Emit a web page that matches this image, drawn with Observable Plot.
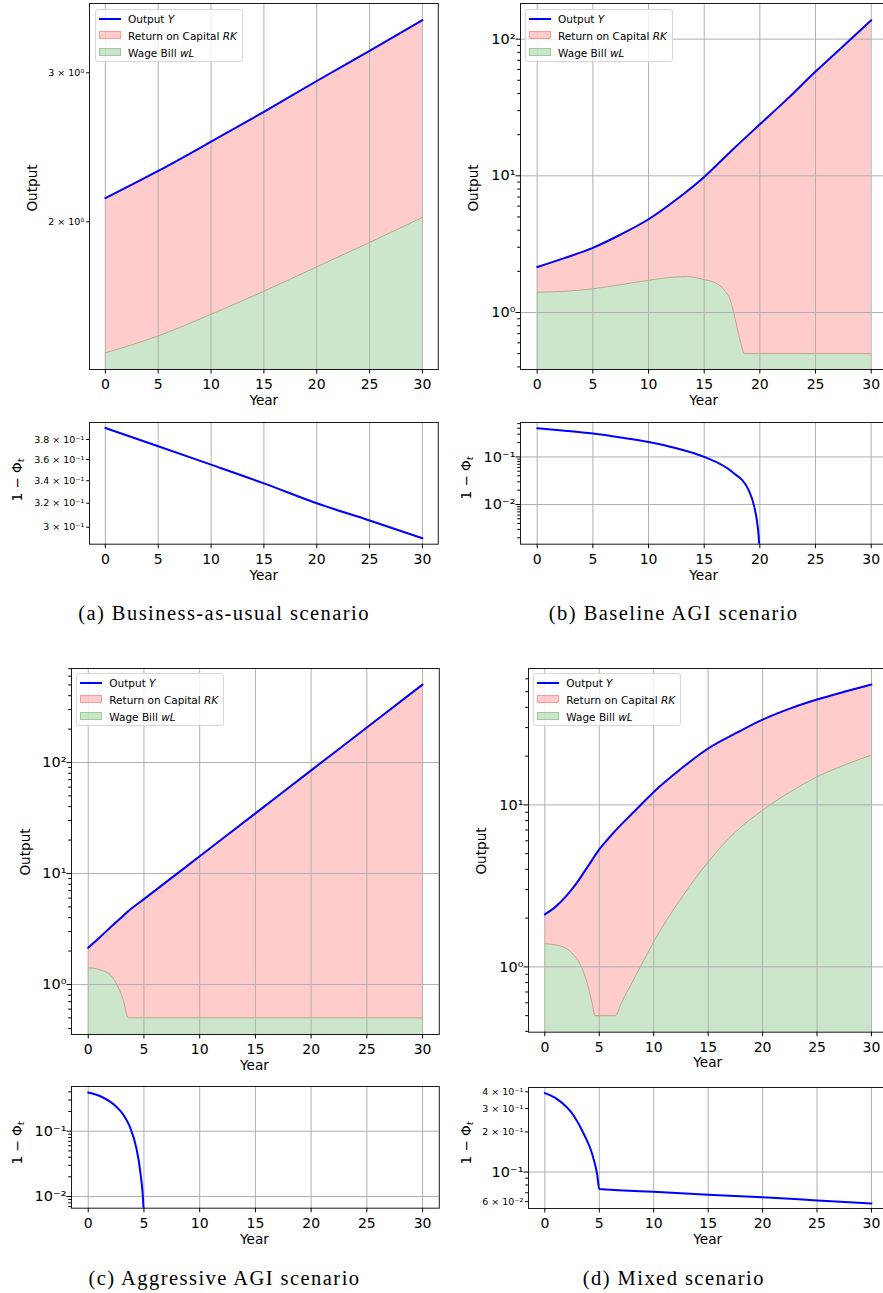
<!DOCTYPE html>
<html><head><meta charset="utf-8">
<script src="https://cdn.jsdelivr.net/npm/d3@7"></script>
<script src="https://cdn.jsdelivr.net/npm/@observablehq/plot@0.6"></script>
<style>
body{margin:0;background:#fff;}
#root{position:relative;width:883px;height:1293px;overflow:hidden;font-family:"DejaVu Sans",sans-serif;color:#000;}
.lbl{position:absolute;font-size:13.6px;line-height:1;white-space:nowrap;transform:translate(-50%,-50%);}
.rot{transform:translate(-50%,-50%) rotate(-90deg);}
.cap{position:absolute;font-family:"Liberation Serif",serif;font-size:20.5px;letter-spacing:1.45px;line-height:1;white-space:nowrap;transform:translate(-50%,-50%);}
.legend{position:absolute;width:146px;height:51px;border:1px solid #d6d6d6;border-radius:3px;background:rgba(255,255,255,0.8);font-size:10.5px;}
.row{position:absolute;left:0;height:17px;width:100%;}
.sw{position:absolute;left:3px;width:22px;}
.txt{position:absolute;left:32px;top:50%;transform:translateY(-50%);line-height:1;white-space:nowrap;}
</style></head><body><div id="root"></div>
<script>
// ---------- data ----------
const xTicks = [0, 5, 10, 15, 20, 25, 30];

// (a) Business-as-usual
const yearsA = [0, 5, 10, 15, 20, 25, 30];
const outputA = [2.133, 2.297, 2.487, 2.698, 2.934, 3.185, 3.463];
const wageA = [1.40, 1.466, 1.555, 1.656, 1.769, 1.891, 2.024];
const phiYearsA = [0, 5, 10, 15, 20, 25, 30];
const phiA = [0.392, 0.3732, 0.3551, 0.3376, 0.32, 0.3055, 0.2912];

// (b) Baseline AGI
const outYearsB = [0, 2.5, 5, 7.5, 10, 12.5, 15, 17.5, 20, 22.5, 25, 27.5, 30];
const outputB = [2.15, 2.51, 2.97, 3.72, 4.81, 6.71, 9.82, 15.4, 23.8, 36.7, 57.9, 89.2, 137.5];
const wageYearsB = [0, 2.5, 5, 7.5, 10, 12.5, 13.5, 15, 16, 16.8, 17.4, 17.8, 18.3, 18.6, 30];
const wageB = [1.408, 1.43, 1.49, 1.60, 1.72, 1.82, 1.83, 1.74, 1.65, 1.46, 1.20, 0.88, 0.593, 0.5, 0.5];
const phiYearsB = [0, 2.5, 5, 7.5, 10, 12.5, 15, 17.5, 19, 19.5, 19.8, 19.92, 20];
const phiB = [0.40, 0.355, 0.309, 0.256, 0.206, 0.152, 0.10, 0.0485, 0.020, 0.0089, 0.0035, 0.0017, 0.0005];

// (c) Aggressive AGI
const outYearsC = [0, 1, 2, 3, 3.5, 5, 10, 15, 20, 25, 30];
const outputC = [2.14, 2.64, 3.27, 4.04, 4.49, 5.87, 14.3, 34.8, 84.9, 206.7, 504];
const wageYearsC = [0, 0.5, 1.14, 2.03, 2.6, 3.1, 3.6, 30];
const wageC = [1.41, 1.40, 1.346, 1.21, 0.986, 0.748, 0.5, 0.5];
const phiYearsC = [0, 1.14, 2.5, 3.2, 3.75, 4.3, 4.7, 4.96, 4.99];
const phiC = [0.391, 0.34, 0.239, 0.174, 0.115, 0.057, 0.022, 0.0066, 0.002];

// (d) Mixed
const outYearsD = [0, 1, 2, 3, 4, 5, 6, 7, 8, 9, 10, 12.5, 15, 17.5, 20, 22.5, 25, 27.5, 30];
const outputD = [2.11, 2.355, 2.754, 3.35, 4.217, 5.309, 6.38, 7.55, 8.81, 10.3, 12.02, 16.7, 22.3, 27.6, 33.6, 39.3, 44.7, 49.9, 55.3];
const wageYearsD = [0, 1.13, 2.36, 3.3, 3.9, 4.35, 4.6, 6.5, 7, 8, 9, 10, 12.5, 15, 17.5, 20, 22.5, 25, 27.5, 30];
const wageD = [1.39, 1.36, 1.24, 1.02, 0.79, 0.594, 0.5, 0.5, 0.594, 0.797, 1.07, 1.43, 2.64, 4.45, 6.8, 9.27, 12.0, 14.9, 17.6, 20.3];
const phiYearsD = [0, 1.13, 2.66, 3.58, 4.35, 4.8, 5, 10, 15, 20, 25, 30];
const phiD = [0.391, 0.353, 0.2646, 0.193, 0.1365, 0.0966, 0.0745, 0.0712, 0.0676, 0.0646, 0.0613, 0.0582];

// tick values and labels
const minorA = [2, 3];
const minorLabelsA = ["2 × 10⁰", "3 × 10⁰"];
const minorPhiA = [0.30, 0.32, 0.34, 0.36, 0.38];
const minorPhiLabelsA = ["3 × 10⁻¹", "3.2 × 10⁻¹", "3.4 × 10⁻¹", "3.6 × 10⁻¹", "3.8 × 10⁻¹"];
const majorOut3 = [1, 10, 100];
const majorOut3Labels = ["10⁰", "10¹", "10²"];
const majorOut2 = [1, 10];
const majorOut2Labels = ["10⁰", "10¹"];
const majorPhi2 = [0.01, 0.1];
const majorPhi2Labels = ["10⁻²", "10⁻¹"];
const majorPhi1 = [0.1];
const majorPhi1Labels = ["10⁻¹"];
const minorPhiD = [0.06, 0.2, 0.3, 0.4];
const minorPhiLabelsD = ["6 × 10⁻²", "2 × 10⁻¹", "3 × 10⁻¹", "4 × 10⁻¹"];

const legendNames = ["Output", "Return on Capital", "Wage Bill"];
const legendSymbols = ["Y", "RK", "wL"];
const captions = ["(a) Business-as-usual scenario", "(b) Baseline AGI scenario", "(c) Aggressive AGI scenario", "(d) Mixed scenario"];

// ---------- helpers ----------
const zip = (xs, ys) => xs.map((x, i) => ({year: x, value: ys[i]}));
function logMinor(lo, hi, exclude) {
  const out = [];
  for (let e = -4; e <= 3; e++) for (let m = 2; m <= 9; m++) {
    const v = +(m * Math.pow(10, e)).toPrecision(6);
    if (v >= lo && v <= hi && !exclude.some(x => Math.abs(x - v) < 1e-9)) out.push(v);
  }
  return out;
}
const root = document.getElementById("root");
const RED = "#ffcccc", GREEN = "#cce6cc";

function panel(o) {
  const [l, t, r, b] = o.frame;
  const ML = 80, MR = 12, MT = 12, MB = 36;
  const majorTicks = o.majorTicks || [], majorLabels = o.majorLabels || [];
  const minorLabeled = o.minorLabeled || [], minorLabels = o.minorLabels || [];
  const minorTicks = o.minorTicks || [];
  const fmtMajor = new Map(majorTicks.map((d, i) => [d, majorLabels[i]]));
  const fmtMinor = new Map(minorLabeled.map((d, i) => [d, minorLabels[i]]));
  const marks = [];
  if (o.output) marks.push(Plot.areaY(o.output, {x: "year", y1: o.yDomain[0], y2: "value", fill: RED, curve: "monotone-x"}));
  if (o.wage) {
    marks.push(Plot.areaY(o.wage, {x: "year", y1: o.yDomain[0], y2: "value", fill: GREEN, curve: "monotone-x"}));
    marks.push(Plot.line(o.wage, {x: "year", y: "value", stroke: "#c2a487", strokeWidth: 1, curve: "monotone-x"}));
  }
  marks.push(Plot.ruleX(xTicks, {stroke: "#b0b0b0", strokeWidth: 1}));
  if (majorTicks.length) marks.push(Plot.ruleY(majorTicks, {stroke: "#b0b0b0", strokeWidth: 1}));
  marks.push(Plot.line(o.line, {x: "year", y: "value", stroke: "#0000ff", strokeWidth: 2, curve: "monotone-x", clip: true}));
  marks.push(Plot.frame({stroke: "#1a1a1a", strokeWidth: 1}));
  marks.push(Plot.axisX(xTicks, {tickSize: 4.5, tickPadding: 5, fontSize: 14, label: null, text: d => String(d)}));
  if (majorTicks.length) marks.push(Plot.axisY(majorTicks, {tickSize: 4.5, tickPadding: 0.5, fontSize: 14.5, label: null, text: d => fmtMajor.get(d)}));
  if (minorLabeled.length) marks.push(Plot.axisY(minorLabeled, {tickSize: 2.8, tickPadding: 2.5, fontSize: 9.5, label: null, text: d => fmtMinor.get(d)}));
  if (minorTicks.length) marks.push(Plot.axisY(minorTicks, {tickSize: 2.8, tickPadding: 0, label: null, text: () => ""}));
  const svg = Plot.plot({
    width: r - l + ML + MR, height: b - t + MT + MB,
    marginLeft: ML, marginRight: MR, marginTop: MT, marginBottom: MB,
    x: {domain: [-1.5, 31.5]},
    y: {type: "log", domain: o.yDomain, label: null},
    style: {fontFamily: "DejaVu Sans", background: "transparent", overflow: "visible"},
    marks
  });
  svg.style.position = "absolute";
  svg.style.left = (l - ML) + "px";
  svg.style.top = (t - MT) + "px";
  svg.style.maxWidth = "none";
  root.appendChild(svg);
}
function label(html, cx, cy, rot, cls) {
  const d = document.createElement("div");
  d.className = (cls || "lbl") + (rot ? " rot" : "");
  d.innerHTML = html;
  d.style.left = cx + "px"; d.style.top = cy + "px";
  root.appendChild(d);
}
function legend(left, top) {
  const d = document.createElement("div");
  d.className = "legend";
  d.style.left = left + "px"; d.style.top = top + "px";
  const sws = [
    '<span class="sw" style="top:7.5px;height:2px;background:#0000ff"></span>',
    '<span class="sw" style="top:4px;height:8px;background:rgba(255,0,0,0.2);box-sizing:border-box;border:1px solid rgba(255,0,0,0.25)"></span>',
    '<span class="sw" style="top:4px;height:8px;background:rgba(0,128,0,0.2);box-sizing:border-box;border:1px solid rgba(0,128,0,0.25)"></span>'
  ];
  d.innerHTML = legendNames.map((n, i) =>
    `<div class="row" style="top:${i * 17}px">${sws[i]}<span class="txt">${n} <i>${legendSymbols[i]}</i></span></div>`).join("");
  root.appendChild(d);
}
const phiLabel = '1 − Φ<sub style="font-size:70%;vertical-align:-0.25em"><i>t</i></sub>';

// ---------- (a) ----------
panel({frame: [89.4, 3.3, 438.2, 369.3], yDomain: [1.338, 3.623],
  output: zip(yearsA, outputA), wage: zip(yearsA, wageA), line: zip(yearsA, outputA),
  minorLabeled: minorA, minorLabels: minorLabelsA});
panel({frame: [89.4, 422.3, 438.2, 544], yDomain: [0.2866, 0.3978],
  line: zip(phiYearsA, phiA), minorLabeled: minorPhiA, minorLabels: minorPhiLabelsA});
legend(95, 9);
label("Output", 33.2, 188.3, true);
label("Year", 263.8, 400.8);
label(phiLabel, 18, 480, true);
label("Year", 263.8, 575.6);
label(captions[0], 224, 613, false, "cap");

// ---------- (b) ----------
panel({frame: [520, 3.3, 887.4, 369.3], yDomain: [0.3828, 182.3],
  output: zip(outYearsB, outputB), wage: zip(wageYearsB, wageB), line: zip(outYearsB, outputB),
  majorTicks: majorOut3, majorLabels: majorOut3Labels, minorTicks: logMinor(0.3828, 182.3, [])});
panel({frame: [520, 422.3, 887.4, 544], yDomain: [0.001466, 0.528],
  line: zip(phiYearsB, phiB), majorTicks: majorPhi2, majorLabels: majorPhi2Labels,
  minorTicks: logMinor(0.001466, 0.528, [])});
legend(525, 9);
label("Output", 474.2, 188.3, true);
label("Year", 703.7, 400.8);
label(phiLabel, 467, 478, true);
label("Year", 703.7, 575.6);
label(captions[1], 673.7, 613, false, "cap");

// ---------- (c) ----------
panel({frame: [70.6, 668.3, 438.4, 1034.3], yDomain: [0.3542, 703],
  output: zip(outYearsC, outputC), wage: zip(wageYearsC, wageC), line: zip(outYearsC, outputC),
  majorTicks: majorOut3, majorLabels: majorOut3Labels, minorTicks: logMinor(0.3542, 703, [])});
panel({frame: [70.6, 1086, 438.4, 1207.7], yDomain: [0.00662, 0.4836],
  line: zip(phiYearsC, phiC), majorTicks: majorPhi2, majorLabels: majorPhi2Labels,
  minorTicks: logMinor(0.00662, 0.4836, [])});
legend(76.3, 673.3);
label("Output", 25.6, 852, true);
label("Year", 254.5, 1065.8);
label(phiLabel, 18.3, 1142.5, true);
label("Year", 254.5, 1239.6);
label(captions[2], 224.5, 1278, false, "cap");

// ---------- (d) ----------
panel({frame: [528, 668.3, 887.3, 1032], yDomain: [0.3953, 69.5],
  output: zip(outYearsD, outputD), wage: zip(wageYearsD, wageD), line: zip(outYearsD, outputD),
  majorTicks: majorOut2, majorLabels: majorOut2Labels, minorTicks: logMinor(0.3953, 69.5, [])});
panel({frame: [528, 1086.7, 887.3, 1207.7], yDomain: [0.0533, 0.4311],
  line: zip(phiYearsD, phiD), majorTicks: majorPhi1, majorLabels: majorPhi1Labels,
  minorLabeled: minorPhiD, minorLabels: minorPhiLabelsD, minorTicks: logMinor(0.0533, 0.4311, minorPhiD)});
legend(533.3, 673.3);
label("Output", 482.2, 851.3, true);
label("Year", 707.7, 1063.4);
label(phiLabel, 467, 1142.5, true);
label("Year", 707.7, 1239.6);
label(captions[3], 673.8, 1278, false, "cap");
</script></body></html>
